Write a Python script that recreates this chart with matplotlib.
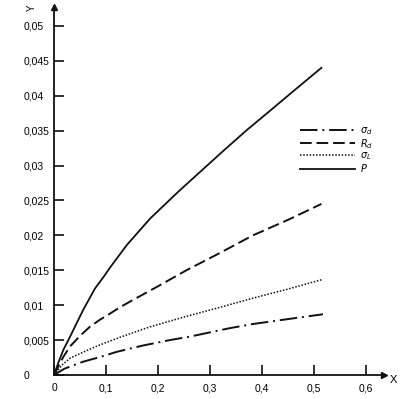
import numpy as np
import matplotlib.pyplot as plt

plt.rcParams['font.family'] = ['Liberation Sans', 'DejaVu Sans']

# curves
x_p = [0, 0.008, 0.018, 0.031, 0.056, 0.079, 0.095, 0.108, 0.14, 0.185, 0.24, 0.28, 0.326, 0.37, 0.42, 0.46, 0.515]
y_p = [0, 0.0017, 0.0036, 0.0055, 0.0093, 0.0124, 0.0140, 0.0154, 0.0186, 0.0224, 0.0263, 0.0290, 0.0321, 0.0350, 0.0381, 0.0406, 0.0440]

x_rd = [0, 0.018, 0.031, 0.05, 0.069, 0.088, 0.108, 0.127, 0.146, 0.2, 0.255, 0.32, 0.383, 0.45, 0.515]
y_rd = [0, 0.0026, 0.0041, 0.0056, 0.0069, 0.0079, 0.0088, 0.0097, 0.0105, 0.0127, 0.0150, 0.0175, 0.0200, 0.0222, 0.0245]

x_sl = [0, 0.015, 0.031, 0.06, 0.088, 0.127, 0.185, 0.255, 0.32, 0.383, 0.45, 0.518]
y_sl = [0, 0.0014, 0.0024, 0.0034, 0.0043, 0.0054, 0.0069, 0.0084, 0.0097, 0.0110, 0.0123, 0.0137]

x_sd = [0, 0.02, 0.056, 0.09, 0.12, 0.17, 0.223, 0.262, 0.338, 0.383, 0.45, 0.518]
y_sd = [0, 0.0009, 0.0019, 0.0026, 0.0033, 0.0042, 0.0050, 0.0055, 0.0067, 0.0073, 0.0080, 0.0087]

xticks = [0, 0.1, 0.2, 0.3, 0.4, 0.5, 0.6]
xlabels = ['0', '0,1', '0,2', '0,3', '0,4', '0,5', '0,6']
yticks = [0, 0.005, 0.01, 0.015, 0.02, 0.025, 0.03, 0.035, 0.04, 0.045, 0.05]
ylabels = ['0', '0,005', '0,01', '0,015', '0,02', '0,025', '0,03', '0,035', '0,04', '0,045', '0,05']

fig = plt.figure(figsize=(4.2, 3.99), dpi=100)
ax = fig.add_axes([0.1286, 0.0602, 0.785, 0.922])

lc = '#111111'
ax.plot(x_sd, y_sd, color=lc, lw=1.4, dashes=(9, 2.5, 1, 2.5), label=r'$\sigma_d$')
ax.plot(x_rd, y_rd, color=lc, lw=1.4, dashes=(6, 2.5), label=r'$R_d$')
ax.plot(x_sl, y_sl, color=lc, lw=1.1, dashes=(1, 1.1), label=r'$\sigma_L$')
ax.plot(x_p, y_p, color=lc, lw=1.3, label=r'$P$')

ax.set_xlim(0, 0.635)
ax.set_ylim(0, 0.0527)
for s in ['top', 'right']:
    ax.spines[s].set_visible(False)
for s in ['left', 'bottom']:
    ax.spines[s].set_linewidth(1.3)
    ax.spines[s].set_color(lc)

ax.plot(1, 0, '>', color=lc, ms=4, transform=ax.transAxes, clip_on=False)
ax.plot(0, 1, '^', color=lc, ms=4, transform=ax.transAxes, clip_on=False)

ax.set_xticks(xticks)
ax.set_xticklabels(xlabels)
ax.set_yticks(yticks)
ax.set_yticklabels(ylabels, ha='left')
ax.tick_params(direction='in', length=7, width=1.2, color=lc, labelsize=7.5)
ax.tick_params(axis='x', pad=6)
ax.tick_params(axis='y', pad=22)

ax.text(-0.067, 0.998, 'Y', transform=ax.transAxes, fontsize=7, rotation=90,
        ha='center', va='center')
ax.text(1.03, -0.015, 'X', transform=ax.transAxes, fontsize=8,
        ha='center', va='center')

ax.legend(loc='upper left', bbox_to_anchor=(0.735, 0.69), frameon=False,
          handlelength=5.6, handletextpad=0.5, labelspacing=0.0, fontsize=7,
          borderaxespad=0)

fig.savefig('out.png', dpi=100)
